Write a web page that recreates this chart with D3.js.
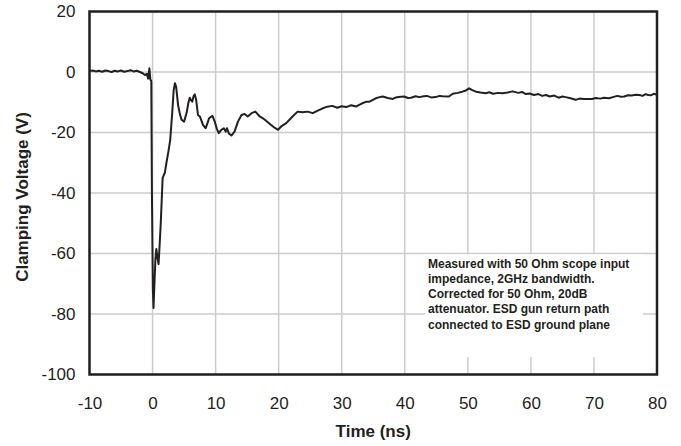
<!DOCTYPE html>
<html>
<head>
<meta charset="utf-8">
<script src="https://cdn.jsdelivr.net/npm/d3@7"></script>
<style>
  body { margin: 0; background: #fff; }
  svg { display: block; font-family: "Liberation Sans", Arial, sans-serif; }
</style>
</head>
<body>
<svg id="chart" width="681" height="446"></svg>
<script>
// valeurs
var temps = [
  -10, -9.5, -9, -8.5, -8, -7.5, -7, -6.5, -6, -5.5, -5, -4.5, -4, -3.5, -3, -2.5, -2, -1.5,
  -1.2, -0.9, -0.7, -0.5, -0.35, -0.2, -0.1, 0.05, 0.15, 0.3, 0.45, 0.6, 0.75, 0.95, 1.1,
  1.3, 1.5, 1.6, 1.95, 2.2, 2.5, 2.8, 3.1, 3.35, 3.55, 3.75, 4.05, 4.35, 4.6, 5.0, 5.4, 5.7,
  5.9, 6.1, 6.3, 6.5, 6.7, 6.9, 7.2, 7.5, 8.0, 8.4, 8.7, 8.96, 9.5, 9.86, 10.2, 10.5, 10.9,
  11.3, 11.6, 11.8, 12.1, 12.5, 13.0, 13.55, 14.1, 14.6, 15.1, 15.7, 16.3, 17.0, 17.5, 18.0,
  18.8, 19.4, 19.9, 20.4, 21.2, 22.2, 23.0, 23.8, 24.6, 25.4, 26.2, 27.0, 27.5, 28.5, 29.3,
  30.0, 30.7, 31.5, 32.3, 33.1, 33.9, 34.4, 35.4, 36.0, 36.5, 37.3, 38.1, 38.6, 39.0, 39.9, 40.5, 41.0, 41.7, 42.3,
  43.0, 43.5, 44.2, 44.9, 45.5, 46.0, 47.0, 47.6, 48.4, 49.1, 49.7, 50.2, 50.7, 51.3, 52.0, 52.8, 53.4, 54.0, 54.8, 55.5,
  56.3, 57.1, 58.0, 58.6, 59.2, 59.8, 60.5, 61.2, 61.8, 62.4, 63.0, 63.7, 64.4, 65.0, 65.5, 66.3, 67.1, 67.7, 68.4, 69.7, 70.3, 71.0, 71.6, 72.4,
  73.0, 73.7, 74.3, 74.8, 75.4, 76.0, 76.6, 77.2, 77.7, 78.2, 78.6, 79.0, 79.5, 80
];
var tension = [
  0.3, 0.5, 0.2, 0.4, 0.1, 0.5, 0.3, 0.0, 0.4, 0.2, 0.5, 0.1, 0.3, 0.6, 0.2, 0.4, 0.0, -0.5,
  -1.0, -0.6, -2.2, 1.2, -2.5, -3.0, -40, -72, -78, -70, -62, -58.5, -61, -63.5, -58,
  -50, -40, -35, -33.3, -30, -26.5, -22.5, -14, -6, -3.7, -5, -11, -14, -15.8, -16.4, -13.5, -10,
  -8.5, -9.3, -9.8, -8, -7.4, -9, -14.2, -14.7, -17.5, -18.6, -17, -15.3, -14.5, -16.4, -18.8, -20.2, -19.1,
  -18.6, -19.7, -18.6, -20.3, -21, -19.7, -16.4, -14.2, -13.9, -14.7, -13.6, -13.1, -14.7, -15.3, -16.1,
  -17.5, -18.5, -19.1, -18, -16.9, -14.7, -13.1, -13.3, -13.1, -13.6, -12.8, -12, -11.6, -11.2, -11.8,
  -11.3, -11.6, -11.0, -11.4, -10.5, -9.8, -9.8, -8.7, -8.3, -8.1, -8.6, -8.9, -8.4, -8.3, -8.1, -8.6, -8.5, -8.0, -8.3,
  -8.0, -7.9, -8.4, -8.3, -7.9, -8.0, -8.1, -7.2, -6.9, -6.5, -6.1, -5.4, -6.0, -6.5, -6.8, -7.0, -6.7, -7.2, -6.9, -7.0,
  -6.8, -6.4, -6.9, -6.6, -7.3, -7.1, -7.6, -7.3, -7.9, -7.6, -8.1, -7.8, -8.5, -8.1, -8.3, -8.7, -9.2, -8.8, -8.9, -8.9, -8.6, -8.8, -8.5, -8.7,
  -8.3, -7.9, -8.2, -8.1, -7.7, -7.8, -7.5, -7.6, -7.9, -7.3, -7.6, -7.7, -7.2, -7.5
];
var ticksX = [-10, 0, 10, 20, 30, 40, 50, 60, 70, 80];
var ticksY = [20, 0, -20, -40, -60, -80, -100];
var note = [
  "Measured with 50 Ohm scope input",
  "impedance, 2GHz bandwidth.",
  "Corrected for 50 Ohm, 20dB",
  "attenuator. ESD gun return path",
  "connected to ESD ground plane"
];

var svg = d3.select("#chart");
var x = d3.scaleLinear().domain([-10, 80]).range([89.5, 657]);
var y = d3.scaleLinear().domain([-100, 20]).range([374.5, 11.5]);

// grille
svg.append("g").selectAll("line").data(ticksX).enter().append("line")
  .attr("x1", d => x(d)).attr("x2", d => x(d))
  .attr("y1", y(20)).attr("y2", y(-100))
  .attr("stroke", "#cccccc").attr("stroke-width", 1.5);
svg.append("g").selectAll("line").data(ticksY).enter().append("line")
  .attr("x1", x(-10)).attr("x2", x(80))
  .attr("y1", d => y(d)).attr("y2", d => y(d))
  .attr("stroke", "#cccccc").attr("stroke-width", 1.5);

// cadre blanc de la note
svg.append("rect")
  .attr("x", 425).attr("y", 254.5)
  .attr("width", 218).attr("height", 102.5)
  .attr("fill", "#fff");

svg.append("g").selectAll("text").data(note).enter().append("text")
  .attr("x", 428).attr("y", (d, i) => 267.5 + i * 15.25)
  .attr("font-size", 12).attr("font-weight", "bold").attr("fill", "#231f20")
  .text(d => d);

// courbe
var ligne = d3.line().x(d => x(d[0])).y(d => y(d[1]));
svg.append("path")
  .datum(temps.map((t, i) => [t, tension[i]]))
  .attr("d", ligne)
  .attr("fill", "none")
  .attr("stroke", "#231f20")
  .attr("stroke-width", 2)
  .attr("stroke-linejoin", "round");

// bordure
svg.append("rect")
  .attr("x", x(-10)).attr("y", y(20))
  .attr("width", x(80) - x(-10)).attr("height", y(-100) - y(20))
  .attr("fill", "none").attr("stroke", "#231f20").attr("stroke-width", 2.5);

// axes
var fmt = d => String(d);
var axeX = svg.append("g").attr("transform", "translate(0," + y(-100) + ")")
  .call(d3.axisBottom(x).tickValues(ticksX).tickFormat(fmt).tickSize(0).tickPadding(22));
var axeY = svg.append("g").attr("transform", "translate(" + x(-10) + ",0)")
  .call(d3.axisLeft(y).tickValues(ticksY).tickFormat(fmt).tickSize(0).tickPadding(14));
[axeX, axeY].forEach(function(a) {
  a.select(".domain").remove();
  a.selectAll("text").attr("font-size", 17).attr("fill", "#231f20")
    .attr("font-family", "'Liberation Sans', Arial, sans-serif");
});

svg.append("text")
  .attr("x", (x(-10) + x(80)) / 2).attr("y", 437)
  .attr("text-anchor", "middle")
  .attr("font-size", 17).attr("font-weight", "bold").attr("fill", "#231f20")
  .text("Time (ns)");

svg.append("text")
  .attr("transform", "translate(28,197) rotate(-90)")
  .attr("text-anchor", "middle")
  .attr("font-size", 17).attr("font-weight", "bold").attr("fill", "#231f20")
  .text("Clamping Voltage (V)");
</script>
</body>
</html>
